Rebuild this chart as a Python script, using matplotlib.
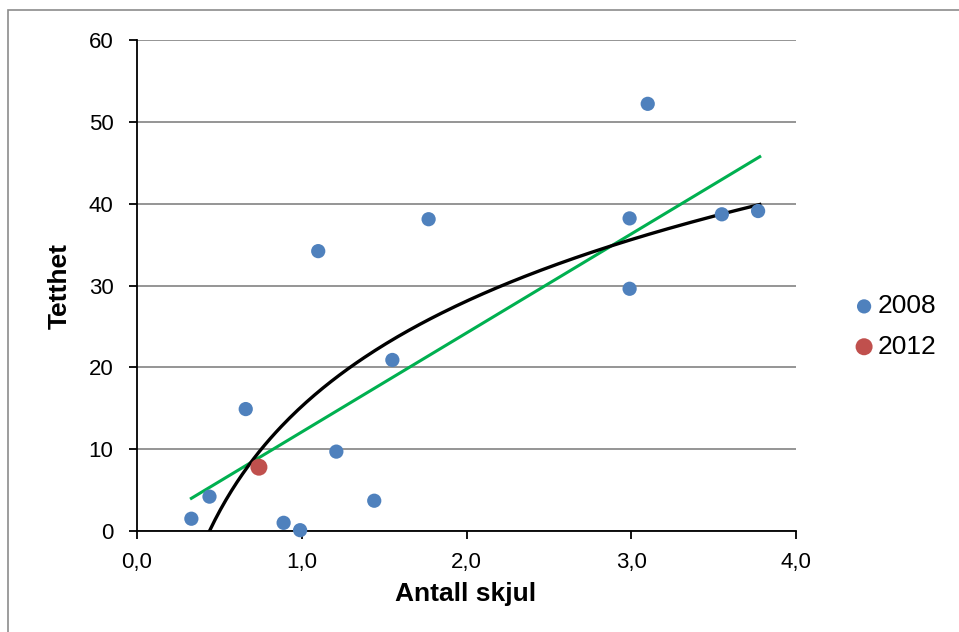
import numpy as np
import matplotlib
matplotlib.use('Agg')
from matplotlib import pyplot as plt
from matplotlib.patches import Rectangle

# data
skjul_2008 = [0.33, 0.44, 0.66, 0.89, 0.99, 1.10, 1.21, 1.44, 1.55, 1.77,
              2.99, 2.99, 3.10, 3.55, 3.77]
tetthet_2008 = [1.5, 4.2, 14.9, 1.0, 0.1, 34.2, 9.7, 3.7, 20.9, 38.1,
                38.2, 29.6, 52.2, 38.7, 39.1]
skjul_2012 = [0.74]
tetthet_2012 = [7.8]

# trendlines (Excel style): linear and logarithmic
lin_range = [0.33, 3.78]
lin_coef = [12.1, 0.0]          # y = a*x + b
log_range = [0.44, 3.78]
log_coef = [18.55, 15.23]       # y = a*ln(x) + b

xticks = [0.0, 1.0, 2.0, 3.0, 4.0]
yticks = [0, 10, 20, 30, 40, 50, 60]

plt.rcParams['font.family'] = ['Liberation Sans', 'DejaVu Sans']

fig = plt.figure(figsize=(9.59, 6.32), dpi=100)
ax = fig.add_axes([137/959, 101/632, 659/959, 491/632])

# outer chart frame
fig.patches.append(Rectangle((8/959, -0.05), 1.1, (622/632) + 0.05,
                             transform=fig.transFigure, fill=False,
                             edgecolor='#8c8c8c', linewidth=1.2))

ax.set_xlim(0, 4)
ax.set_ylim(0, 60)
ax.set_xticks(xticks)
ax.set_xticklabels([('%.1f' % t).replace('.', ',') for t in xticks], fontsize=16)
ax.set_yticks(yticks)
ax.set_yticklabels([str(t) for t in yticks], fontsize=16)

ax.yaxis.grid(True, color='#8c8c8c', linewidth=1.3)
ax.set_axisbelow(True)
for side in ['top', 'right']:
    ax.spines[side].set_visible(False)
for side in ['left', 'bottom']:
    ax.spines[side].set_linewidth(1.3)
ax.tick_params(direction='out', length=6, width=1.3)
ax.tick_params(axis='x', pad=9)
ax.tick_params(axis='y', pad=11)

ax.set_xlabel('Antall skjul', fontsize=19, fontweight='bold')
ax.set_ylabel('Tetthet', fontsize=19, fontweight='bold')
ax.xaxis.set_label_coords((466 - 137) / 659, (531 - 594) / 491)
ax.yaxis.set_label_coords((60 - 137) / 659, (531 - 286) / 491)
ax.xaxis.label.set_va('center')
ax.yaxis.label.set_va('center')

# trend lines
xl = np.linspace(lin_range[0], lin_range[1], 50)
ax.plot(xl, lin_coef[0] * xl + lin_coef[1], color='#00B050', linewidth=2.2, zorder=3)
xg = np.linspace(log_range[0], log_range[1], 200)
ax.plot(xg, log_coef[0] * np.log(xg) + log_coef[1], color='black', linewidth=2.4, zorder=3)

ax.scatter(skjul_2008, tetthet_2008, s=105, color='#4F81BD', edgecolors='none',
           label='2008', zorder=4, clip_on=False)
ax.scatter(skjul_2012, tetthet_2012, s=150, color='#C0504D', edgecolors='none',
           label='2012', zorder=4, clip_on=False)

fig.legend(loc='center left', bbox_to_anchor=(841/959, 1 - 326.5/632), frameon=False,
           fontsize=19, handlelength=0.95, handletextpad=0.05, labelspacing=0.62,
           borderaxespad=0)

fig.savefig('out.png', dpi=100)
